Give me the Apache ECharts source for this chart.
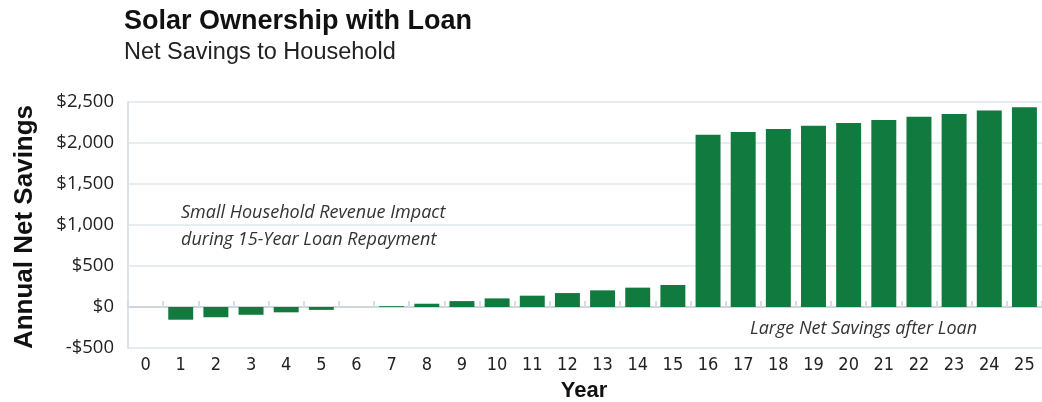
<!DOCTYPE html>
<html>
<head>
<meta charset="utf-8">
<script src="https://cdn.jsdelivr.net/npm/echarts@6/dist/echarts.min.js"></script>
<style>html,body{margin:0;padding:0;background:#fff}#c{width:1042px;height:402px}</style>
</head>
<body>
<div id="c"></div>
<script>
const years = ['0','1','2','3','4','5','6','7','8','9','10','11','12','13','14','15','16','17','18','19','20','21','22','23','24','25'];
const netSavings = [null,-155,-125,-95,-65,-35,0,10,40,72,105,138,170,203,236,268,2100,2135,2170,2210,2245,2280,2320,2355,2395,2435];
const yTicks = {min:-500, max:2500, interval:500};
const titleText = 'Solar Ownership with Loan';
const subtitleText = 'Net Savings to Household';
const yName = 'Annual Net Savings';
const xName = 'Year';
const note1 = ['Small Household Revenue Impact','during 15-Year Loan Repayment'];
const note2 = 'Large Net Savings after Loan';

const chart = echarts.init(document.getElementById('c'));
const condensed = '"Liberation Sans Narrow","DejaVu Sans Condensed","Arial Narrow",sans-serif';
const sansA = '"Liberation Sans",Arial,sans-serif';
const sansB = '"Open Sans","Noto Sans",sans-serif';
chart.setOption({
  animation:false,
  grid:{left:128, right:-6, top:102, bottom:54},
  xAxis:[{type:'category', data:years, position:'bottom',
      axisLine:{show:false, onZero:false}, axisTick:{show:false},
      axisLabel:{fontFamily:condensed, fontSize:18, color:'#222', margin:8}},
    {type:'category', data:years, position:'bottom', gridIndex:0,
      axisLine:{show:true, onZero:true, lineStyle:{color:'#cdd6dc', width:2}},
      axisTick:{show:true, inside:true, length:6, lineStyle:{color:'#d5dde2', width:2}},
      axisLabel:{show:false}}],
  yAxis:{type:'value', min:yTicks.min, max:yTicks.max, interval:yTicks.interval,
    axisLine:{show:true, lineStyle:{color:'#dbe3e8', width:2}}, axisTick:{show:false},
    splitLine:{lineStyle:{color:'#dfe6ea', width:1.5}},
    axisLabel:{fontFamily:sansB, fontSize:18.5, color:'#222', margin:14,
      formatter:v=> (v<0?'-$':'$') + Math.abs(v).toLocaleString('en-US')}},
  series:[{type:'bar', data:netSavings, xAxisIndex:0, barWidth:'71%',
    itemStyle:{color:'#117a3e'}}],
  graphic:[
    {type:'text', x:124, y:22,
      style:{text:titleText, fontFamily:sansA, fontWeight:'bold', fontSize:27, fill:'#111', align:'left', verticalAlign:'middle'}},
    {type:'text', x:124, y:53,
      style:{text:subtitleText, fontFamily:sansA, fontSize:23.5, fill:'#222', align:'left', verticalAlign:'middle'}},
    {type:'text', x:25, y:227, rotation:Math.PI/2,
      style:{text:yName, fontFamily:sansA, fontWeight:'bold', fontSize:26, fill:'#111', align:'center', verticalAlign:'middle'}},
    {type:'text', x:584, y:391,
      style:{text:xName, fontFamily:sansA, fontWeight:'bold', fontSize:22, fill:'#111', align:'center', verticalAlign:'middle'}},
    {type:'text', x:181, y:213,
      style:{text:note1[0], fontFamily:sansB, fontStyle:'italic', fontSize:18, fill:'#333', align:'left', verticalAlign:'middle'}},
    {type:'text', x:181, y:240,
      style:{text:note1[1], fontFamily:sansB, fontStyle:'italic', fontSize:18, fill:'#333', align:'left', verticalAlign:'middle'}},
    {type:'text', x:750, y:329,
      style:{text:note2, fontFamily:sansB, fontStyle:'italic', fontSize:18, fill:'#333', align:'left', verticalAlign:'middle'}}
  ]
});
</script>
</body>
</html>
